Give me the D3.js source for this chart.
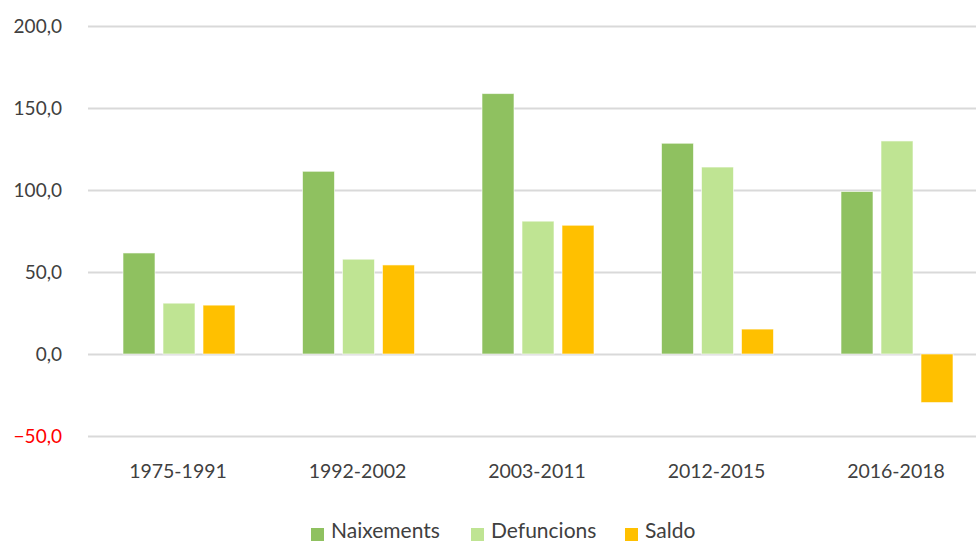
<!DOCTYPE html>
<html>
<head>
<meta charset="utf-8">
<script src="https://cdn.jsdelivr.net/npm/d3@7"></script>
<style>
  body { margin: 0; background: #fff; }
  text { font-family: Lato, "Open Sans", sans-serif; }
</style>
</head>
<body>
<script>
// chart data
var categories = ["1975-1991", "1992-2002", "2003-2011", "2012-2015", "2016-2018"];
var seriesNames = ["Naixements", "Defuncions", "Saldo"];
var naixements = [61.6, 111.4, 158.8, 128.5, 99.1];
var defuncions = [31.0, 57.8, 81.0, 114.0, 129.9];
var saldo = [29.8, 54.3, 78.5, 15.2, -29.6];
var yTicks = [-50, 0, 50, 100, 150, 200];

var colors = ["#8fc160", "#bfe493", "#ffc000"];
var seriesValues = [naixements, defuncions, saldo];

var width = 976, height = 543;
var plotLeft = 88, plotRight = 976, plotTop = 26, plotBottom = 436;
var groupStep = 179.5;

var svg = d3.select("body").append("svg")
  .attr("width", width)
  .attr("height", height);

var y = d3.scaleLinear().domain([-50, 200]).range([plotBottom, plotTop]);

// the category band runs a little past the visible right edge
var x0 = d3.scaleBand().domain(categories)
  .range([plotLeft, plotLeft + groupStep * categories.length]);
var x1 = d3.scaleBand().domain(seriesNames)
  .range([35, 147])
  .paddingInner(0.2);

var fmt = function(d) { return d3.format(".1f")(d).replace(".", ","); };

// gridlines
svg.append("g").selectAll("line")
  .data(yTicks)
  .enter()
  .append("line")
  .attr("x1", plotLeft)
  .attr("x2", plotRight)
  .attr("y1", function(d) { return y(d) + 0.5; })
  .attr("y2", function(d) { return y(d) + 0.5; })
  .attr("stroke", "#d9d9d9")
  .attr("stroke-width", 2);

// y labels
svg.append("g").selectAll("text")
  .data(yTicks)
  .enter()
  .append("text")
  .attr("x", 62)
  .attr("y", function(d) { return y(d); })
  .attr("dy", "0.35em")
  .attr("text-anchor", "end")
  .attr("font-size", "19px")
  .attr("fill", function(d) { return d < 0 ? "#ff0000" : "#404040"; })
  .text(fmt);

// bars
var rows = [];
categories.forEach(function(c, i) {
  seriesNames.forEach(function(s, j) {
    rows.push({ cat: c, series: s, value: seriesValues[j][i], color: colors[j] });
  });
});

svg.append("g").selectAll("rect")
  .data(rows)
  .enter()
  .append("rect")
  .attr("x", function(d) { return x0(d.cat) + x1(d.series); })
  .attr("y", function(d) { return y(Math.max(0, d.value)); })
  .attr("width", x1.bandwidth())
  .attr("height", function(d) { return Math.abs(y(d.value) - y(0)); })
  .attr("fill", function(d) { return d.color; })
  .attr("stroke", "#ffffff")
  .attr("stroke-opacity", 0.6)
  .attr("stroke-width", 1);

// x labels
svg.append("g").selectAll("text")
  .data(categories)
  .enter()
  .append("text")
  .attr("x", function(d) { return x0(d) + 90; })
  .attr("y", 478)
  .attr("text-anchor", "middle")
  .attr("font-size", "19.5px")
  .attr("fill", "#404040")
  .text(function(d) { return d; });

// legend
var legendX = [311, 471, 625];
var legend = svg.append("g").selectAll("g")
  .data(seriesNames)
  .enter()
  .append("g")
  .attr("transform", function(d, i) { return "translate(" + legendX[i] + ",531)"; });

legend.append("rect")
  .attr("x", 0)
  .attr("y", -3)
  .attr("width", 13)
  .attr("height", 13)
  .attr("fill", function(d, i) { return colors[i]; });

legend.append("text")
  .attr("x", 20)
  .attr("dy", "0.35em")
  .attr("font-size", "21px")
  .attr("fill", "#404040")
  .text(function(d) { return d; });
</script>
</body>
</html>
